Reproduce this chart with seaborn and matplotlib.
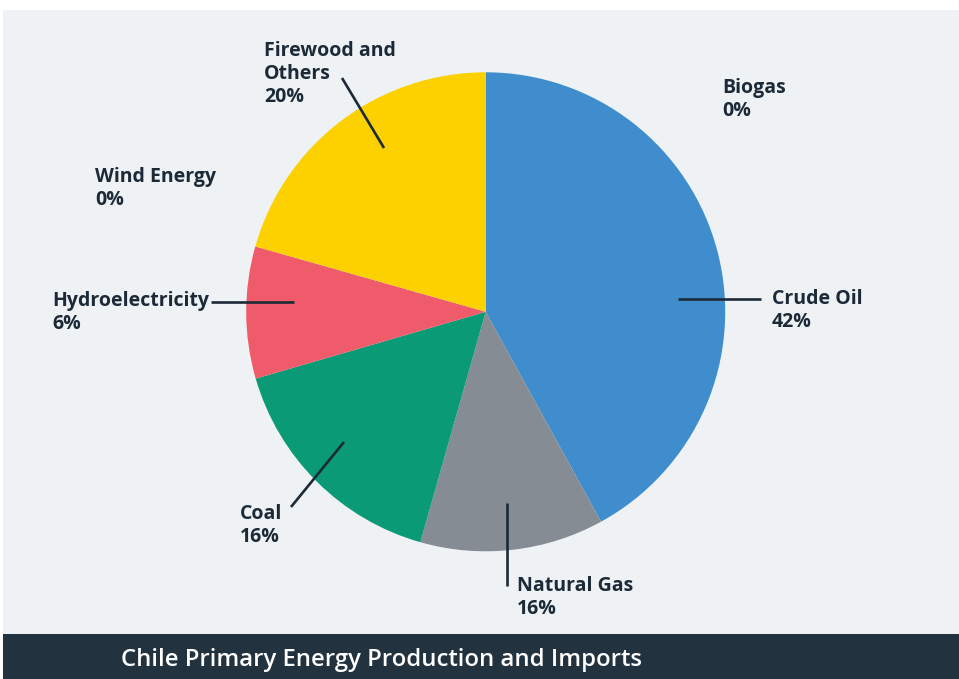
"""
Chile primary energy production and imports - pie chart
"""

import matplotlib
matplotlib.use('Agg')
import matplotlib.pyplot as plt
import seaborn as sns
from matplotlib.patches import Rectangle

# ──────────────────────────────────────────────
# 1. DATA
# ──────────────────────────────────────────────
# shares (clockwise from the top)
sources = ['Crude Oil', 'Natural Gas', 'Coal', 'Hydroelectricity',
           'Wind Energy', 'Firewood and\nOthers', 'Biogas']
shares = [42.0, 12.4, 16.1, 8.9, 0.0, 20.6, 0.0]
# percentages as printed on the labels
printed_pct = ['42%', '16%', '16%', '6%', '0%', '20%', '0%']
colors = ['#3f8dcc', '#868c93', '#0a9a75', '#f05b6b',
          '#f05b6b', '#fdd000', '#3f8dcc']

TITLE = 'Chile Primary Energy Production and Imports'

# ──────────────────────────────────────────────
# 2. STYLE / LAYOUT
# ──────────────────────────────────────────────
sns.set_theme(style='white')
plt.rcParams['font.family'] = ['Open Sans', 'DejaVu Sans']

W, H = 959, 679
PANEL = '#eef2f5'
BAR = '#22323f'
INK = '#1c2a37'


def px(x, y):
    # pixel coords (y down) -> data coords (y up)
    return x, H - y


# label text position (left, top) and leader line (from, to), in pixels
label_pos = {
    'Crude Oil':            (772, 289),
    'Natural Gas':          (517, 576),
    'Coal':                 (240, 504),
    'Hydroelectricity':     (52, 291),
    'Wind Energy':          (95, 167),
    'Firewood and\nOthers': (264, 41),
    'Biogas':               (722, 78),
}
leaders = {
    'Crude Oil':            ((678, 299), (761, 299)),
    'Natural Gas':          ((507, 503), (507, 586)),
    'Coal':                 ((344, 442), (291, 507)),
    'Hydroelectricity':     ((294, 302), (211, 302)),
    'Firewood and\nOthers': ((384, 148), (342, 78)),
}

fig = plt.figure(figsize=(W / 100, H / 100), dpi=100)
fig.patch.set_facecolor('white')
ax = fig.add_axes([0, 0, 1, 1])

# background panel and title bar
ax.add_patch(Rectangle(px(3, 634), W - 3, 624, facecolor=PANEL,
                       edgecolor='none', zorder=0))
ax.add_patch(Rectangle(px(3, H), W - 3, H - 634, facecolor=BAR,
                       edgecolor='none', zorder=0))

ax.pie(shares, colors=colors, startangle=90, counterclock=False,
       center=px(485.7, 311.8), radius=239.5,
       wedgeprops=dict(linewidth=0, antialiased=True))

ax.set_xlim(0, W)
ax.set_ylim(0, H)
ax.set_aspect('equal')
ax.axis('off')

for src, pct in zip(sources, printed_pct):
    x, y = label_pos[src]
    ax.text(*px(x, y), f'{src}\n{pct}', ha='left', va='top',
            fontsize=14, fontweight='bold', color=INK, linespacing=1.2)
    if src in leaders:
        (x0, y0), (x1, y1) = leaders[src]
        ax.plot([x0, x1], [H - y0, H - y1], color=INK, lw=1.9,
                solid_capstyle='butt', zorder=3)

ax.text(*px(121, 660), TITLE, ha='left', va='center', fontsize=17.2,
        fontweight='semibold', color='white')

plt.savefig('out.png', dpi=100)
